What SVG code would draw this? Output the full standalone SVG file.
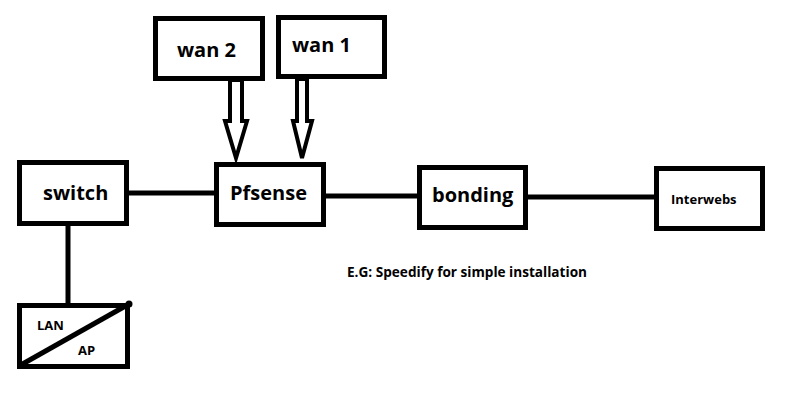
<svg xmlns="http://www.w3.org/2000/svg" width="811" height="407" viewBox="0 0 811 407">
<style>
.box{fill:#fff;stroke:#000;stroke-width:5}
.ln{stroke:#000;stroke-width:5;fill:none}
.arr{fill:#fff;stroke:#000;stroke-width:4;stroke-linejoin:miter}
text{font-family:"Open Sans","Liberation Sans",sans-serif;font-weight:bold;fill:#000}
.big{font-size:20px}
.sm{font-size:13px}
</style>
<rect width="811" height="407" fill="#fff"/>
<g id="connectors">
<line class="ln" x1="128" y1="193" x2="214" y2="193"/>
<line class="ln" x1="325" y1="196" x2="418" y2="196"/>
<line class="ln" x1="527" y1="197" x2="656" y2="197"/>
<line class="ln" x1="68" y1="225" x2="68" y2="304"/>
<g id="arrow-wan2">
<path class="arr" d="M230,80 V121 H225 L236,158 L247,121 H242 V80 Z"/>
</g>
<g id="arrow-wan1">
<path class="arr" d="M297,79 V121 H293 L302,158 L312,121 H307 V79 Z"/>
</g>
</g>
<g id="wan2">
<rect class="box" x="155.5" y="18.5" width="107" height="60"/>
<text class="big" x="177" y="57">wan 2</text>
</g>
<g id="wan1">
<rect class="box" x="278.5" y="17.5" width="106" height="59"/>
<text class="big" x="292" y="52">wan 1</text>
</g>
<g id="switch">
<rect class="box" x="19.5" y="162.5" width="107" height="61"/>
<text class="big" x="43" y="200">switch</text>
</g>
<g id="pfsense">
<rect class="box" x="216.5" y="164.5" width="107" height="60"/>
<text class="big" x="230" y="200">Pfsense</text>
</g>
<g id="bonding">
<rect class="box" x="419.5" y="167.5" width="106" height="60"/>
<text x="432" y="202" style="font-size:20px">bonding</text>
</g>
<g id="interwebs">
<rect class="box" x="656.5" y="168.5" width="106" height="60"/>
<text class="sm" x="671" y="204">Interwebs</text>
</g>
<g id="lanap">
<rect class="box" x="19.5" y="305.5" width="108" height="61"/>
<line class="ln" x1="19" y1="366" x2="129" y2="304"/>
<circle cx="129" cy="304" r="3.5" fill="#000"/>
<text class="sm" x="37" y="330">LAN</text>
<text class="sm" x="78" y="355">AP</text>
</g>
<text x="347" y="277" style="font-size:13.6px">E.G: Speedify for simple installation</text>
</svg>
